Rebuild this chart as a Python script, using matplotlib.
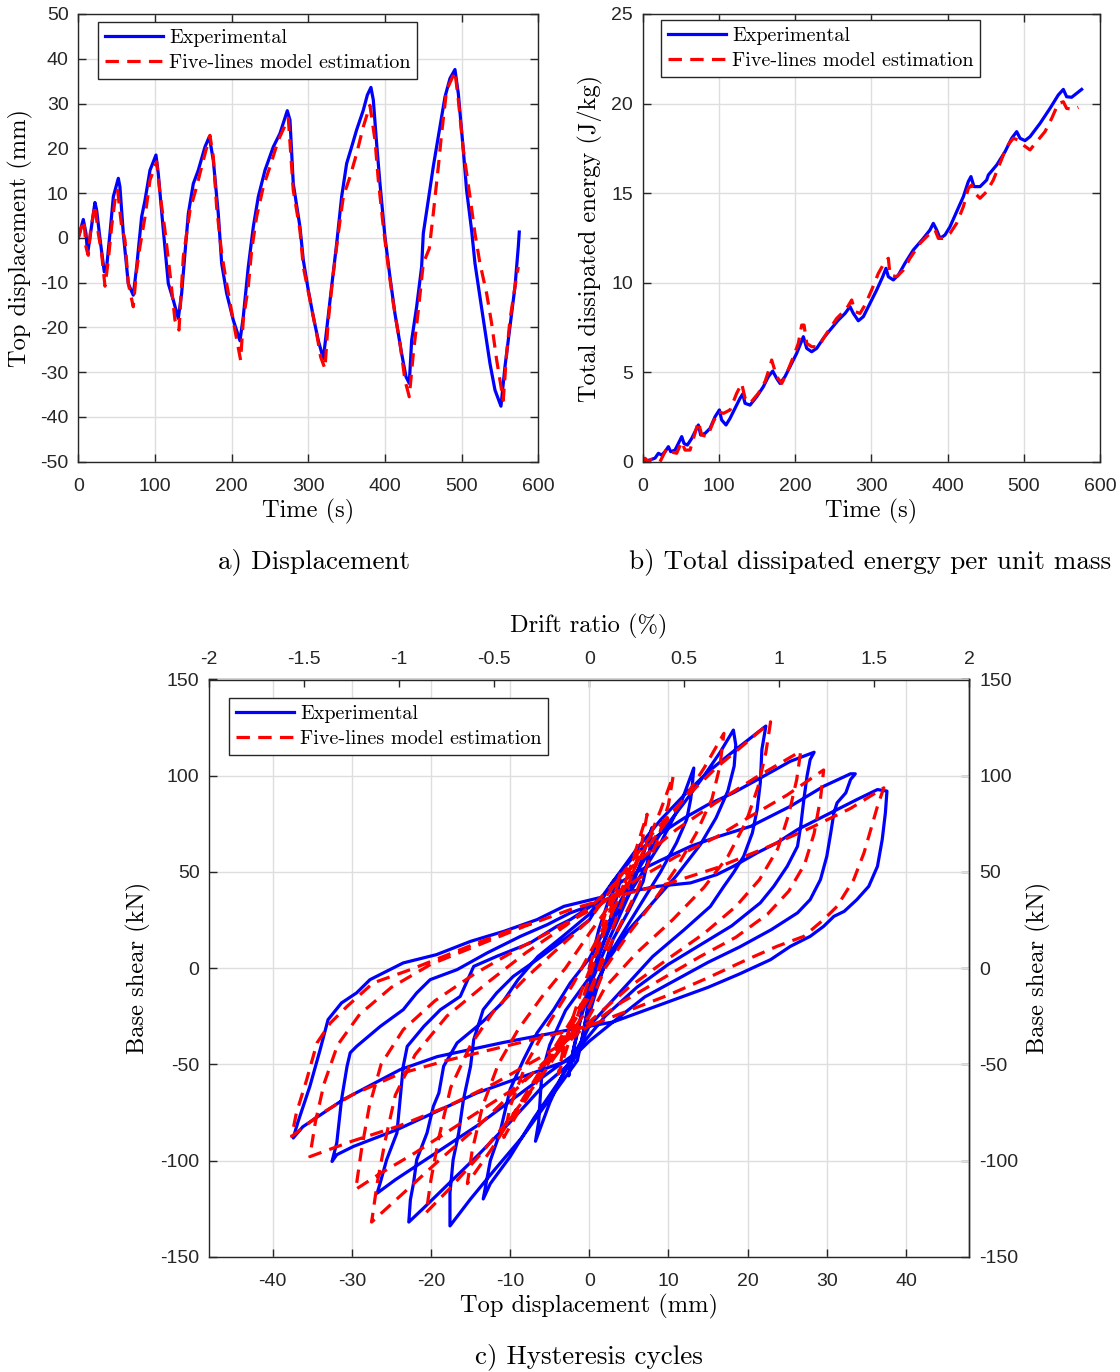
import numpy as np
import matplotlib
matplotlib.use("Agg")
import matplotlib.pyplot as plt
from matplotlib.ticker import FixedLocator, FormatStrFormatter

plt.rcParams["font.family"] = ["Liberation Sans", "DejaVu Sans"]
plt.rcParams["axes.unicode_minus"] = False

SERIF = "cmr10"
INK = "#262626"
GRID = "#dedede"
BLUE = "#0000ff"
RED = "#ff0000"
LW = 2.3
DASH = (0, (4.2, 2.6))

W, H = 1120, 1372

# ---------------- a) top displacement history ----------------
time_exp = [0, 6.5, 10.0, 12.2, 21.7, 23.9, 29.1, 33.9, 37.0, 41.3, 45.7, 52.2, 54.3, 58.7, 65.2, 71.7,
            76.1, 82.6, 87.0, 93.5, 101.3, 104.3, 110.9, 117.4, 123.9, 130.4, 134.8, 139.1, 143.5, 150.0,
            156.5, 165.2, 170.9, 176.1, 182.6, 187.0, 193.5, 202.2, 210.9, 215.2, 221.7, 228.3, 234.8,
            243.5, 254.3, 263.0, 272.6, 276.1, 280.4, 289.1, 293.5, 300.0, 306.5, 313.0, 319.6, 323.9,
            330.4, 337.0, 343.5, 350.0, 356.5, 363.0, 371.7, 377.0, 381.7, 384.8, 389.1, 393.5, 400.0,
            406.5, 413.0, 421.7, 427.4, 431.7, 434.8, 441.3, 447.8, 450.0, 456.5, 463.0, 471.7, 478.3,
            484.8, 491.3, 495.7, 502.2, 506.5, 513.0, 517.4, 523.9, 530.4, 537.0, 543.5, 551.3, 556.5,
            563.0, 569.6, 573.9, 575.2]
disp_exp = [0, 4.1, 1.0, -3.5, 7.9, 6.2, -1.3, -7.6, -6.5, 1.0, 9.2, 13.3, 11.4, 1.0, -10.2, -12.8,
            -6.5, 4.7, 8.4, 15.1, 18.5, 14.4, 1.7, -10.2, -13.9, -18.0, -12.4, -3.5, 5.4, 12.1,
            15.1, 20.3, 22.6, 17.3, 5.4, -5.7, -12.4, -18.4, -23.0, -17.6, -6.5, 2.5, 9.2,
            15.1, 20.3, 23.3, 28.4, 26.3, 12.1, 2.5, -5.0, -11.7, -17.6, -22.9, -27.0, -20.6,
            -10.9, -1.3, 9.2, 16.6, 20.3, 24.1, 28.5, 31.9, 33.6, 30.8, 21.1, 12.1, 0.2,
            -8.7, -16.9, -25.8, -31.0, -32.5, -22.9, -15.4, -6.5, 1.0, 8.4, 15.9, 24.8, 31.5,
            35.6, 37.6, 32.2, 19.6, 10.6, 1.7, -5.7, -13.2, -20.6, -28.1, -34.0, -37.6, -28.8,
            -19.9, -10.9, -2.0, 1.3]

time_mod = [0, 4.3, 7.4, 10.0, 13.0, 16.1, 21.7, 26.1, 30.4, 34.8, 39.1, 43.5, 47.8, 51.3, 56.5, 60.9,
            65.2, 71.7, 76.1, 80.4, 87.0, 93.5, 102.2, 106.5, 113.0, 119.6, 126.1, 131.3, 137.0, 145.7,
            154.3, 163.0, 171.7, 176.1, 180.4, 187.0, 193.5, 204.3, 211.7, 215.2, 221.7, 226.1, 232.6,
            241.3, 250.0, 260.9, 273.9, 280.4, 289.1, 293.5, 302.2, 310.9, 316.1, 321.7, 326.1, 332.6,
            339.1, 345.7, 354.3, 363.0, 371.7, 380.4, 387.0, 391.3, 397.8, 404.3, 410.9, 419.6, 426.1,
            431.7, 437.0, 443.5, 450.0, 457.8, 463.0, 469.6, 473.9, 480.4, 491.3, 495.7, 502.2, 510.9,
            517.4, 523.9, 532.6, 539.1, 545.7, 554.3, 558.7, 563.0, 569.6, 573.9]
disp_mod = [0, 2.5, 3.9, -2.0, -3.9, 1.7, 7.3, 1.0, -3.5, -10.8, -5.0, 2.5, 8.4, 10.6, 2.5, -0.5,
            -10.2, -15.4, -7.2, -2.0, 4.7, 12.9, 17.0, 9.9, 1.7, -8.0, -18.4, -20.6, -4.2, 6.2,
            11.4, 17.3, 22.9, 18.1, 6.9, -3.5, -10.2, -20.6, -27.3, -18.4, -10.9, -2.8, 4.7,
            11.4, 15.9, 21.8, 26.7, 10.6, 1.7, -6.5, -13.9, -21.4, -26.6, -29.2, -18.4, -8.0,
            1.0, 9.2, 13.6, 18.8, 24.8, 29.6, 21.8, 12.9, 2.5, -6.5, -14.7, -23.6, -31.8,
            -35.5, -25.8, -16.2, -5.7, -2.4, 5.4, 15.9, 23.3, 33.0, 37.1, 30.8, 19.6, 9.2,
            1.0, -5.7, -12.4, -19.1, -27.3, -36.3, -25.8, -18.4, -10.9, -6.5]

# ---------------- b) total dissipated energy per unit mass ----------------
time_e_exp = [0, 9.6, 16.2, 20.6, 24.9, 29.3, 33.7, 36.7, 42.4, 46.8, 51.2, 54.2, 58.6, 64.3, 68.7,
              73.0, 76.1, 81.8, 88.3, 94.9, 100.6, 103.6, 109.3, 114.6, 121.1, 127.7, 131.2, 134.3,
              140.8, 149.6, 158.3, 164.9, 170.6, 175.8, 180.2, 186.7, 193.3, 202.0, 207.3, 210.8,
              215.2, 221.7, 228.3, 237.0, 245.8, 256.7, 265.5, 272.0, 276.4, 282.9, 289.5, 298.2,
              307.0, 314.9, 319.2, 322.3, 328.8, 335.4, 344.1, 355.0, 368.2, 376.9, 381.3, 385.7,
              390.1, 396.6, 403.2, 411.9, 420.7, 427.2, 430.7, 434.7, 442.6, 451.3, 453.5, 464.5,
              475.4, 484.1, 490.7, 495.1, 501.6, 508.2, 521.3, 534.4, 545.3, 551.9, 556.2, 562.8,
              569.4, 575.9]
energy_exp = [0, 0.1, 0.2, 0.47, 0.37, 0.56, 0.84, 0.56, 0.65, 1.02, 1.40, 1.02, 0.93, 1.30, 1.68,
              2.05, 1.49, 1.58, 1.86, 2.51, 2.89, 2.33, 2.05, 2.42, 2.98, 3.54, 3.78, 3.26,
              3.16, 3.63, 4.19, 4.75, 5.06, 4.65, 4.37, 4.75, 5.31, 6.05, 6.61, 6.98,
              6.33, 6.14, 6.33, 6.89, 7.35, 7.91, 8.28, 8.66, 8.28, 7.87, 8.10, 8.84,
              9.59, 10.33, 10.80, 10.33, 10.15, 10.42, 11.08, 11.82, 12.47, 12.94, 13.31, 12.94,
              12.47, 12.66, 13.12, 13.96, 14.80, 15.64, 15.92, 15.36, 15.36, 15.73, 16.01, 16.57,
              17.31, 18.06, 18.43, 18.06, 17.93, 18.15, 18.89, 19.73, 20.48, 20.79, 20.38, 20.35,
              20.57, 20.79]

time_e_mod = [0, 3.1, 7.4, 11.8, 18.4, 22.7, 31.5, 35.9, 44.6, 51.2, 55.5, 62.1, 73.0, 77.4, 84.8,
              92.7, 99.3, 105.9, 114.6, 123.3, 129.9, 134.3, 140.8, 151.7, 160.5, 167.0, 169.2, 175.8,
              182.4, 188.9, 197.7, 204.2, 208.6, 211.7, 215.2, 221.7, 230.5, 241.4, 254.5, 267.6,
              274.2, 278.6, 285.1, 291.7, 300.4, 309.2, 317.9, 322.3, 324.5, 333.2, 342.0, 350.7,
              363.8, 376.9, 383.5, 387.9, 394.4, 403.2, 411.9, 420.7, 427.2, 431.6, 436.0, 442.6,
              451.3, 460.0, 468.8, 477.5, 486.3, 492.8, 499.4, 508.2, 516.9, 527.8, 536.6, 545.3,
              551.9, 556.2, 565.0, 571.6]
energy_mod = [0, 0.19, 0.0, 0.13, 0.09, 0.0, 0.74, 0.56, 0.47, 1.12, 0.65, 0.65, 2.23, 1.49, 1.40,
              2.23, 2.79, 2.70, 2.89, 3.82, 4.37, 3.54, 3.26, 3.82, 4.47, 5.31, 5.68, 4.75,
              4.37, 4.93, 5.86, 6.61, 7.63, 7.63, 6.61, 6.42, 6.42, 7.17, 8.00, 8.56,
              9.03, 8.38, 8.28, 8.75, 9.59, 10.52, 11.17, 11.36, 10.42, 10.33, 10.70, 11.36,
              12.19, 12.75, 12.94, 12.47, 12.47, 12.75, 13.31, 14.24, 15.26, 15.45, 14.99, 14.71,
              15.08, 15.73, 16.66, 17.59, 18.06, 17.96, 17.68, 17.41, 17.87, 18.43, 19.17, 20.01,
              20.10, 19.73, 19.68, 19.79]

# ---------------- c) hysteresis cycles (top displacement in mm, base shear in kN) ----------------
hyst_disp_exp = [
    0, 1.2, 2.5, 3.9, 3.4, 2.2, 0.8, -0.8, -2.0, -2.6, -2.2, -1.0, 0.5,
    2.5, 5, 6.5, 7.9, 7.6, 6.8, 5, 3, 1, -1, -3, -5, -6.8, -6.4, -6.0, -5, -3, 0,
    3, 6, 9, 11.5, 13.2, 13, 12.8, 12.3, 11, 9, 6, 3, 0, -1, -4, -7, -10, -12.5, -13.4,
    -12.5, -11.3, -10, -8.3, -6.6, -4.5, -2.4, 0,
    3, 6, 9, 12, 14.5, 16.5, 18.2, 18.5, 18.3, 17.5, 16, 14, 11, 8, 5, 2, 0, -1.5, -5, -8.5, -12,
    -15, -17.6, -17.6, -17.2, -16.5, -15.9, -15, -14.6, -13.4, -11.7, -9.6, -6.6, -3.2, 0,
    3, 6, 9, 12, 15, 18, 20.5, 22.3, 21.8, 21.6, 21.2, 20.6, 19.5, 18.2, 17, 15.3, 12, 8, 4, 0, -2,
    -6, -10, -14, -18, -21, -22.8, -22.6, -22.2, -21.8, -20.5, -19.7, -19, -18.4, -16.7, -13.5,
    -11, -9, -6.5, -3.5, 0,
    3, 6, 9, 12, 15, 18.2, 22, 25.4, 28.4, 27.9, 27.5, 27.1, 26.7, 26.3, 25, 23.3, 21.6, 18, 14, 10,
    6, 2, -2, -7.5, -14.2, -20.1, -24.5, -26.8, -26.4, -25.6, -24.3, -23.9, -23.5, -23, -20.9,
    -18.8, -16.3, -14.6, -11.7, -7.5, -4.1, -2.4, 0.5,
    3, 6, 9, 12.8, 16, 20.4, 25.4, 29.6, 33, 33.6, 33, 32.4, 31.3, 30.9, 30.5, 30, 29.2, 27.9, 26.3,
    23, 19, 15, 11, 7, 3, 0, -2.4, -14.2, -24.3, -29.8, -31.9, -32.5, -31.9, -31.3, -30.6, -30.2,
    -29.4, -26.4, -23.5, -21.8, -20.1, -16.7, -12.9, -8.7, -5.3, -2.4, 0.5,
    4.3, 8.6, 12.8, 16.1, 18.2, 21.2, 23.7, 26.3, 28.8, 31.3, 33.8, 36.4, 37.6, 37.4, 37.0, 36.4,
    35.3, 33.8, 32.2, 30.9, 29.6, 27.9, 25.4, 22.9, 19, 15, 11, 7, 3, -2.4, -10.9, -19.2, -23.9,
    -31.1, -36.2, -37.4, -36.8, -35.3, -34, -33, -31.3, -29.4, -27.7, -23.5, -19.3, -15, -10.8,
    -6.6, -3.2, 1.2]
hyst_force_exp = [
    0, 20, 36, 46, 36, 18, 2, -20, -42, -56, -46, -25, -5,
    15, 38, 55, 73, 60, 45, 30, 15, -10, -38, -52, -70, -90, -80, -55, -40, -22, -5,
    25, 45, 65, 85, 104, 94.5, 87.6, 77.2, 65, 50, 30, 10, -15, -40, -60, -78, -98, -112, -120,
    -100, -85.7, -63, -47.6, -33.7, -21.6, -7.7, 5,
    28, 50, 70, 86, 100, 112, 123.7, 116, 105, 92, 78, 64, 48, 34, 20, 2, -18, -48, -68, -88, -105,
    -120, -134, -117, -99.6, -85.7, -68.4, -51, -37.2, -21.6, -12.9, -4.3, 4.4, 14.8, 25,
    45, 62, 77, 90, 102, 112, 120, 125.8, 113.6, 96.3, 82.4, 70.3, 58.1, 49.5, 42.5, 32.1, 20, 6,
    -12, -30, -48, -62, -80, -97, -113, -125, -132, -120.4, -111.7, -99.6, -85.7, -71.9, -64.9, -51,
    -38.9, -28, -18, -6, 6, 16, 28,
    45, 60, 70, 78, 85, 91.1, 99.7, 107.5, 112.2, 108.4, 99.7, 87.6, 73.7, 63.3, 52.9, 42.5, 33.9,
    22, 12, 2, -10, -25, -45, -61.5, -82, -98, -110, -117, -111.5, -99.6, -85.7, -68.4, -51, -40.7,
    -30.3, -21.6, -14.7, 0.9, 6.1, 13, 21.7, 25.2, 33,
    42, 50, 56, 63.3, 68, 73.7, 84.1, 94.5, 101, 101, 98, 91.1, 85.9, 80.7, 70.3, 58.1, 46, 35.6,
    28.7, 20, 11, 3, -6, -15, -28, -38, -47.6, -64.9, -84, -92.7, -97, -100.5, -90.9, -68.4, -51,
    -44, -40.7, -30.3, -21.6, -12.9, -6, -0.8, 7.9, 16.5, 22.6, 28.7, 33,
    39.1, 42.5, 44.3, 48.6, 52.9, 59.9, 65.1, 72, 77.2, 82.4, 87.6, 92.8, 92, 80.7, 66.8, 52.9,
    42.5, 35.6, 29.5, 26.9, 21.7, 16.5, 11.3, 4.4, -3, -10, -16, -22, -28, -32, -38.7, -46, -52.8,
    -68.4, -82.5, -88.3, -80, -61.5, -42.4, -26.8, -18.1, -12.9, -6, 2.7, 7, 13.9, 19.1,
    25.2, 32.1, 36.5]

hyst_disp_mod = [
    0, 2, 4, 3, 1, -1.5, -3.9, -3.2, -1, 2, 5, 7.3,
    6.5, 4.5, 2, 0, -3, -6, -9, -10.8,
    -10, -8, -5, -2, 1, 4, 7, 9, 10.6,
    10, 8.5, 6, 3, 0, -3, -6, -9, -12, -15.4,
    -14.8, -13.5, -11.5, -9, -6, -3, 0, 3, 6, 9, 12, 14.5, 17,
    16.5, 15.5, 13.5, 11, 8, 5, 2, 0, -3, -6, -10, -14, -17.5, -20.6,
    -20, -19, -17.5, -15, -12, -8, -4, 0, 4, 8, 12, 16, 19.5, 22.9,
    22.3, 21.3, 19.8, 17.5, 14.5, 10.5, 6, 2, 0, -4, -9, -14, -19, -23.5, -27.5,
    -26.8, -25.8, -24.5, -22, -18, -13, -8, -3, 1, 6, 11, 16, 21, 26.7,
    26.2, 25.2, 23.8, 21.5, 18.5, 14.5, 10, 5, 0, -5, -10, -16, -22, -26.5, -29.5,
    -28.8, -27.8, -26.3, -23.5, -19.5, -14.5, -9, -4, 1, 6, 11, 16, 20, 25, 29.6,
    29.2, 28.4, 27.2, 25.2, 22.5, 18.5, 14, 9, 4, 0, -6, -12, -18, -24, -30, -35.3,
    -34.6, -33.5, -31.8, -29, -25, -20, -14, -8, -2, 4, 10, 16, 22, 28, 33, 37.2,
    36.4, 34.7, 33.4, 31.3, 29.6, 27.1, 23.7, 19.9, 15, 10, 5, 0, -6, -12, -18, -24, -30, -34, -37.6,
    -37, -35.7, -34.4, -32.7, -30.6, -27.3, -22.6, -18.4, -14.2, -8.7, -6.5]
hyst_force_mod = [
    0, 28, 50, 35, 8, -25, -55, -40, -12, 20, 50, 80,
    62, 38, 10, -15, -35, -55, -75, -88,
    -72, -50, -28, -8, 15, 38, 62, 82, 100,
    85, 65, 40, 15, -12, -32, -52, -72, -92, -112,
    -95, -72, -50, -32, -15, 0, 18, 35, 55, 72, 88, 104, 122,
    105, 88, 70, 52, 34, 18, 0, -20, -38, -56, -78, -98, -114, -127,
    -110, -88, -62, -40, -22, -5, 10, 25, 48, 70, 88, 104, 116, 128,
    112, 94, 76, 58, 42, 25, 8, -10, -25, -42, -62, -82, -100, -117, -132,
    -112, -90, -66, -45, -25, -8, 8, 22, 35, 55, 72, 86, 99, 112.7,
    98, 80, 62, 46, 32, 18, 5, -10, -28, -48, -64, -80, -96, -107, -115,
    -95, -72, -50, -32, -17, -3, 10, 21, 32, 46, 58, 68, 78, 90, 103,
    88, 70, 54, 40, 28, 16, 6, -6, -18, -30, -46, -60, -72, -82, -90, -98,
    -80, -60, -40, -24, -10, 2, 12, 22, 31, 38, 44, 52, 62, 73, 83, 93.7,
    84.1, 59.9, 46, 32.1, 25.2, 16.5, 11.3, 4.4, -5, -14, -22, -30, -36, -42, -48, -55, -66, -76, -87.5,
    -75.3, -58, -38.9, -28.5, -19.9, -7.7, -0.8, 6.1, 13, 21.7, 24]

# tick values
time_ticks = [0, 100, 200, 300, 400, 500, 600]
disp_ticks = [-50, -40, -30, -20, -10, 0, 10, 20, 30, 40, 50]
energy_ticks = [0, 5, 10, 15, 20, 25]
hyst_x_ticks = [-40, -30, -20, -10, 0, 10, 20, 30, 40]
shear_ticks = [-150, -100, -50, 0, 50, 100, 150]
drift_ticks = [-2, -1.5, -1, -0.5, 0, 0.5, 1, 1.5, 2]
wall_height_mm = 2400.0

LEGEND_LABELS = ["Experimental", "Five-lines model estimation"]


def px_rect(x0, y0, x1, y1):
    return [x0 / W, 1 - y1 / H, (x1 - x0) / W, (y1 - y0) / H]


def style_axes(ax, all_sides=True):
    ax.grid(True, color=GRID, linewidth=1.0)
    ax.set_axisbelow(True)
    for s in ax.spines.values():
        s.set_color(INK)
        s.set_linewidth(1.0)
    ax.tick_params(direction="in", length=6, width=1.0, colors=INK, labelsize=14,
                   top=all_sides, right=all_sides, pad=7)
    ax.tick_params(axis="x", pad=12)


def add_legend(ax, anchor):
    leg = ax.legend(LEGEND_LABELS, loc="upper left", bbox_to_anchor=anchor, borderaxespad=0,
                    prop={"family": SERIF, "size": 14.5}, frameon=True, fancybox=False,
                    edgecolor=INK, framealpha=1.0, handlelength=2.9, handletextpad=0.3,
                    borderpad=0.33, labelspacing=0.36)
    leg.get_frame().set_linewidth(1.0)
    return leg


def ftext(x, y, s, size, rotation=0):
    fig.text(x / W, 1 - y / H, s, fontsize=size, family=SERIF, ha="center", va="center",
             rotation=rotation, color="black")


fig = plt.figure(figsize=(W / 100, H / 100), dpi=100)

# a) displacement
ax_a = fig.add_axes(px_rect(78.3, 14, 538.3, 461.7))
ax_a.plot(time_exp, disp_exp, color=BLUE, lw=LW)
ax_a.plot(time_mod, disp_mod, color=RED, lw=LW, linestyle=DASH)
ax_a.set_xlim(0, 600)
ax_a.set_ylim(-50, 50)
ax_a.xaxis.set_major_locator(FixedLocator(time_ticks))
ax_a.yaxis.set_major_locator(FixedLocator(disp_ticks))
style_axes(ax_a)
add_legend(ax_a, (0.043, 0.982))
ftext(20, 238, "Top displacement (mm)", 17.6, rotation=90)
ftext(308, 511, "Time (s)", 17.6)
ftext(314, 562, "a) Displacement", 19.5)

# b) energy
ax_b = fig.add_axes(px_rect(642.7, 14, 1100, 461.7))
ax_b.plot(time_e_exp, energy_exp, color=BLUE, lw=LW)
ax_b.plot(time_e_mod, energy_mod, color=RED, lw=LW, linestyle=DASH)
ax_b.set_xlim(0, 600)
ax_b.set_ylim(0, 25)
ax_b.xaxis.set_major_locator(FixedLocator(time_ticks))
ax_b.yaxis.set_major_locator(FixedLocator(energy_ticks))
style_axes(ax_b)
add_legend(ax_b, (0.040, 0.987))
ftext(590, 238, "Total dissipated energy (J/kg)", 17.6, rotation=90)
ftext(871, 511, "Time (s)", 17.6)
ftext(870, 562, "b) Total dissipated energy per unit mass", 19.5)

# c) hysteresis
ax_c = fig.add_axes(px_rect(209.3, 679.5, 969.3, 1256.7))
ax_c.plot(hyst_disp_exp, hyst_force_exp, color=BLUE, lw=LW)
ax_c.plot(hyst_disp_mod, hyst_force_mod, color=RED, lw=LW, linestyle=DASH)
ax_c.set_xlim(-48, 48)
ax_c.set_ylim(-150, 150)
ax_c.xaxis.set_major_locator(FixedLocator(hyst_x_ticks))
ax_c.yaxis.set_major_locator(FixedLocator(shear_ticks))
style_axes(ax_c, all_sides=False)

top = ax_c.secondary_xaxis("top", functions=(lambda d: d / wall_height_mm * 100.0,
                                              lambda r: r * wall_height_mm / 100.0))
top.xaxis.set_major_locator(FixedLocator(drift_ticks))
top.xaxis.set_major_formatter(FormatStrFormatter("%g"))
top.tick_params(direction="in", length=6, width=1.0, colors=INK, labelsize=14, pad=8)

right = ax_c.secondary_yaxis("right", functions=(lambda f: f, lambda f: f))
right.yaxis.set_major_locator(FixedLocator(shear_ticks))
right.tick_params(direction="in", length=6, width=1.0, colors=INK, labelsize=14, pad=7)
for s in list(top.spines.values()) + list(right.spines.values()):
    s.set_color(INK)
    s.set_linewidth(1.0)

add_legend(ax_c, (0.026, 0.968))
ftext(589, 626, "Drift ratio (%)", 17.6)
ftext(589, 1306, "Top displacement (mm)", 17.6)
ftext(138, 968, "Base shear (kN)", 17.6, rotation=90)
ftext(1038, 968, "Base shear (kN)", 17.6, rotation=90)
ftext(589, 1357, "c) Hysteresis cycles", 19.5)

fig.savefig("out.png", dpi=100)
